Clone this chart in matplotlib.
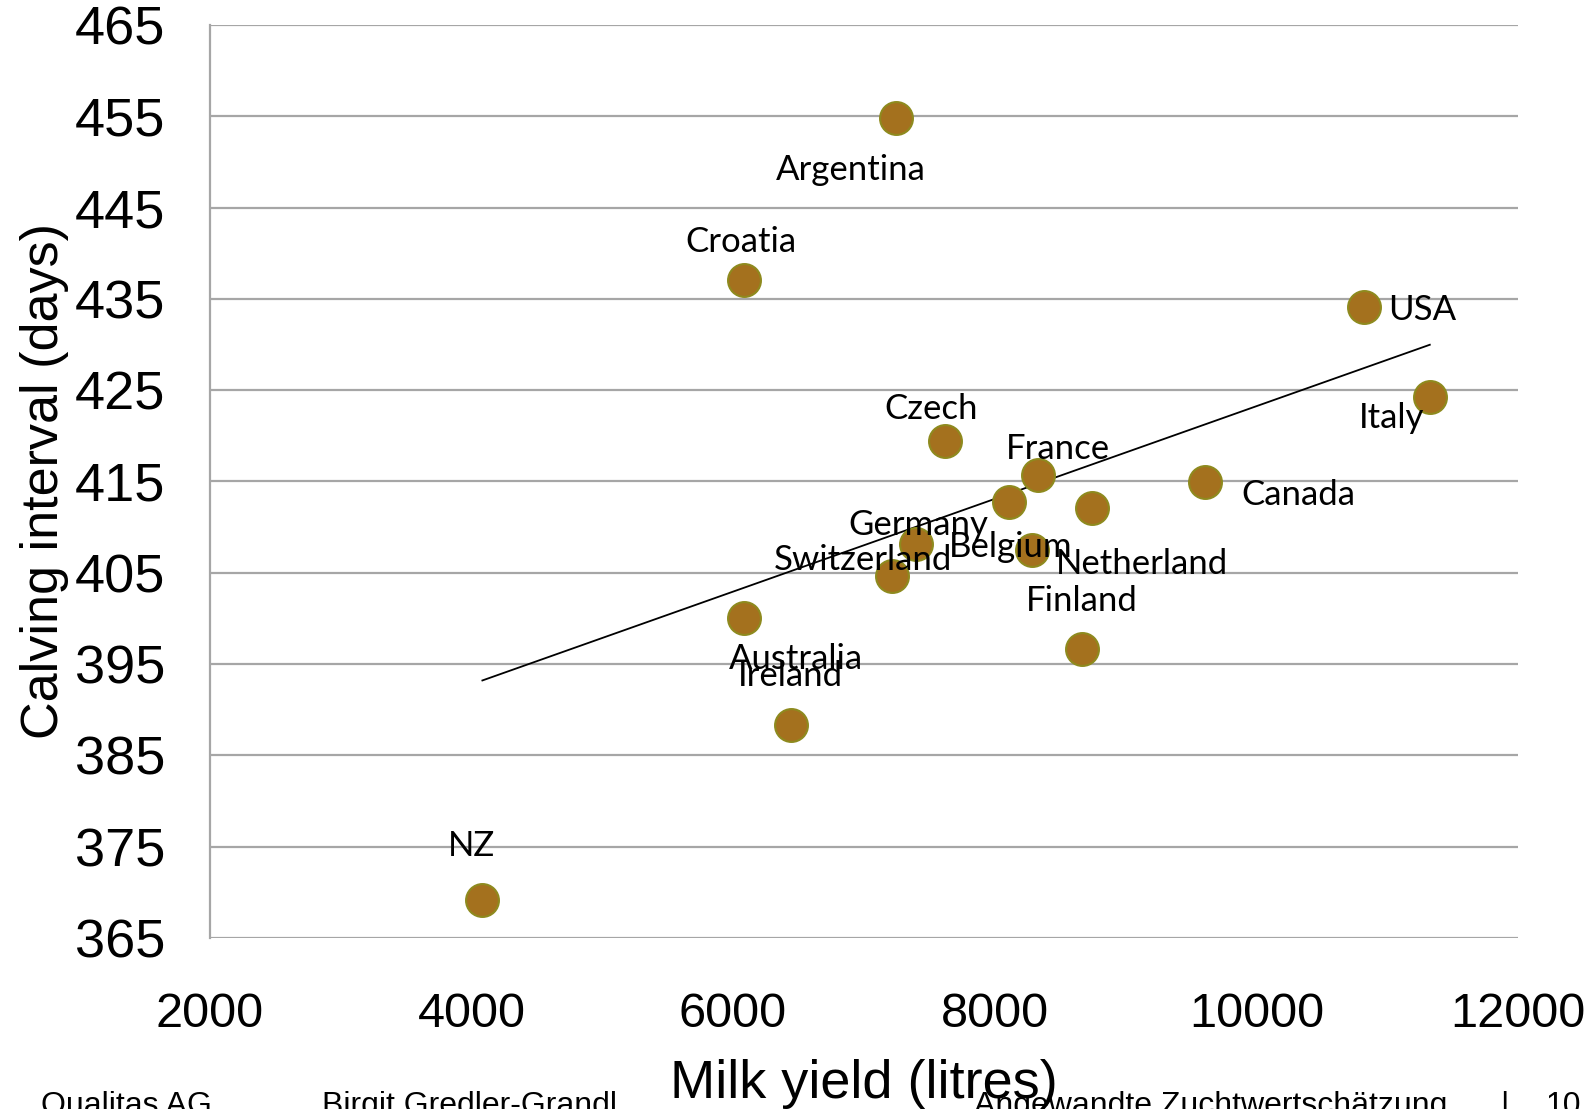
import matplotlib.pyplot as plt
import numpy as np

countries = ['Argentina', 'Croatia', 'USA', 'Italy', 'Czech', 'France', 'Canada', '',
             'Netherland', 'Germany', 'Belgium', 'Switzerland', 'Australia', 'Finland',
             'Ireland', 'NZ']
milk = [7244, 6082, 10823, 11326, 7624, 8329, 9607, 8112,
        8747, 7399, 8282, 7213, 6082, 8669, 6446, 4084]
calving = [454.8, 437.1, 434.1, 424.3, 419.4, 415.7, 414.9, 412.7,
           412.1, 408.1, 407.5, 404.7, 400.1, 396.6, 388.3, 369.2]

# label offsets (pixels) from the point, as in the slide
offsets = {'Argentina': (-45, -52), 'Croatia': (-3, 38), 'USA': (58, -3), 'Italy': (-38, -21),
           'Czech': (-14, 32), 'France': (20, 26), 'Canada': (93, -13), 'Netherland': (50, -56),
           'Germany': (2, 19), 'Belgium': (-21, 3), 'Switzerland': (-29, 16),
           'Australia': (52, -41), 'Finland': (0, 48), 'Ireland': (-1, 49), 'NZ': (-11, 54)}

fig = plt.figure(figsize=(15.89, 11.09), dpi=100)
ax = fig.add_axes([0.132, 0.1542, 0.8233, 0.8233])

ax.set_xlim(2000, 12000)
ax.set_ylim(365, 465)
ax.set_xticks(np.arange(2000, 12001, 2000))
ax.set_yticks(np.arange(365, 466, 10))
ax.yaxis.grid(True, color='#A6A6A6', linewidth=1.6)
ax.set_axisbelow(True)
for s in ['top', 'right', 'bottom']:
    ax.spines[s].set_visible(False)
ax.spines['left'].set_color('#A6A6A6')
ax.spines['left'].set_linewidth(1.6)
ax.tick_params(axis='x', length=0, labelsize=35, pad=39)
ax.tick_params(axis='y', length=0, labelsize=39, pad=32)
for t in ax.get_xticklabels() + ax.get_yticklabels():
    t.set_fontfamily('Liberation Sans')

# linear trend line
k, b = np.polyfit(milk, calving, 1)
xs = np.array([min(milk), max(milk)])
ax.plot(xs, k * xs + b, color='black', linewidth=1.3, zorder=2)

ax.scatter(milk, calving, s=560, color='#A4711E', edgecolor='#8E8A1E', linewidth=1.5, zorder=3)

for name, x, y in zip(countries, milk, calving):
    if not name:
        continue
    dx, dy = offsets[name]
    ax.annotate(name, (x, y), xytext=(dx, dy), textcoords='offset pixels',
                ha='center', va='center', fontsize=25, family='Lato', zorder=4)

ax.set_xlabel('Milk yield (litres)', fontsize=39, family='Liberation Sans', labelpad=16)
ax.set_ylabel('Calving interval (days)', fontsize=37.5, family='Liberation Sans', labelpad=4)

# footer of the slide
footer = [(0.0255, 'Qualitas AG'), (0.2027, 'Birgit Gredler-Grandl'),
          (0.613, 'Angewandte Zuchtwertschätzung'), (0.944, '|'), (0.9725, '10')]
for fx, txt in footer:
    fig.text(fx, 0.0165, txt, fontsize=23, family='Liberation Sans', va='top', ha='left')

fig.savefig('out.png', dpi=100)
